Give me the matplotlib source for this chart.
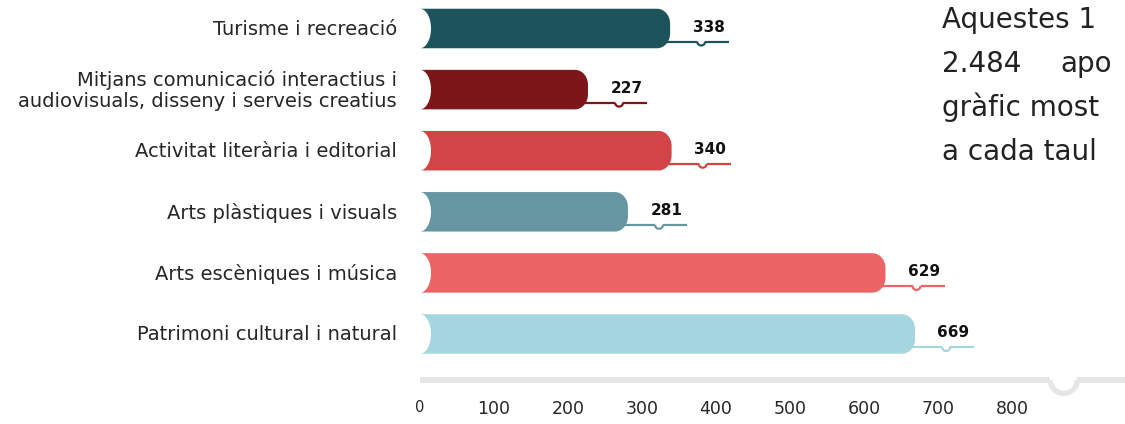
import matplotlib
matplotlib.use("Agg")
import matplotlib.pyplot as plt
from matplotlib.patches import PathPatch, Arc
from matplotlib.path import Path

# data (top to bottom)
categories = ["Turisme i recreació",
              "Mitjans comunicació interactius i\naudiovisuals, disseny i serveis creatius",
              "Activitat literària i editorial",
              "Arts plàstiques i visuals",
              "Arts escèniques i música",
              "Patrimoni cultural i natural"]
values = [338, 227, 340, 281, 629, 669]
colors = ["#1d545c", "#7c1618", "#d24446", "#6796a3", "#ec6466", "#a5d6e0"]
xticks = [0, 100, 200, 300, 400, 500, 600, 700, 800]
side_lines = ["Aquestes 1", "2.484", "gràfic most", "a cada taul"]
side_word2 = "apo"

W, H = 1125, 424
SX = 0.74      # px per value unit
SY = 61.1      # px per category
X0 = 420       # px where value 0 sits
Y0 = 28.5      # px of first bar centre

fig = plt.figure(figsize=(W / 100, H / 100), dpi=100)
ax = fig.add_axes([X0 / W, 0, 1 - X0 / W, 1])
xmax = (W - X0) / SX
ax.set_xlim(0, xmax)
ax.set_ylim((H - Y0) / SY, -Y0 / SY)
ax.axis("off")

def py(p):
    # pixel row -> y data
    return (p - Y0) / SY

def bar_path(v, yc, hh, rx, ry, ex):
    k = 0.5523
    top, bot = yc - hh, yc + hh
    verts = [(0, top), (v - rx, top),
             (v - rx + k * rx, top), (v, top + ry - k * ry), (v, top + ry),
             (v, bot - ry),
             (v, bot - ry + k * ry), (v - rx + k * rx, bot), (v - rx, bot),
             (0, bot),
             (k * ex, bot), (ex, yc + k * hh), (ex, yc),
             (ex, yc - k * hh), (k * ex, top), (0, top),
             (0, top)]
    codes = [Path.MOVETO, Path.LINETO,
             Path.CURVE4, Path.CURVE4, Path.CURVE4,
             Path.LINETO,
             Path.CURVE4, Path.CURVE4, Path.CURVE4,
             Path.LINETO,
             Path.CURVE4, Path.CURVE4, Path.CURVE4,
             Path.CURVE4, Path.CURVE4, Path.CURVE4,
             Path.CLOSEPOLY]
    return Path(verts, codes)

hh = 19.75 / SY
rx = 13 / SX
ry = 15 / SY
ex = 11 / SX

for i, (v, c) in enumerate(zip(values, colors)):
    ax.add_patch(PathPatch(bar_path(v, i, hh, rx, ry, ex), fc=c, ec="none", zorder=2))

    # value line with little notch
    ly = i + 13 / SY
    end = v + 80
    nx = v + 42
    nr = 4 / SX
    ax.plot([v - rx, nx - nr], [ly, ly], color=c, lw=1.6, zorder=1, solid_capstyle="butt")
    ax.plot([nx + nr, end], [ly, ly], color=c, lw=1.6, zorder=1, solid_capstyle="butt")
    ax.add_patch(Arc((nx, ly), 2 * nr, 2 * 4 / SY, theta1=0, theta2=180,
                     color=c, lw=1.6, zorder=1))
    ax.text(nx + 10, i - 1.5 / SY, str(v), ha="center", va="center",
            fontsize=11, fontweight="bold", color="#111111")

    ax.text(-23 / SX, i + 1 / SY, categories[i], ha="right", va="center", fontsize=14,
            color="#262626", linespacing=1.1)

# bottom axis line with notch
gy = py(380)
notch = 870
nr = 13.5 / SX
ax.plot([0, notch - nr], [gy, gy], color="#e6e6e6", lw=4.3, solid_capstyle="butt", zorder=1)
ax.plot([notch + nr, xmax], [gy, gy], color="#e6e6e6", lw=4.3, solid_capstyle="butt", zorder=1)
ax.add_patch(Arc((notch, gy), 2 * nr, 2 * 13.5 / SY, theta1=0, theta2=180,
                 color="#e6e6e6", lw=3.8, zorder=1))
for t in xticks:
    ax.text(t, py(408 if t == 0 else 409), str(t), ha="center", va="center",
            fontsize=10.5 if t == 0 else 12.5, color="#262626")

# side text (only the part that shows at the right edge)
for k, s in enumerate(side_lines):
    fig.text(942 / W, 1 - (28 + 44 * k) / H, s, fontsize=20, color="#222222",
             ha="left", va="baseline")
fig.text(1060 / W, 1 - 72 / H, side_word2, fontsize=20, color="#222222",
         ha="left", va="baseline")

fig.savefig("out.png", dpi=100)
